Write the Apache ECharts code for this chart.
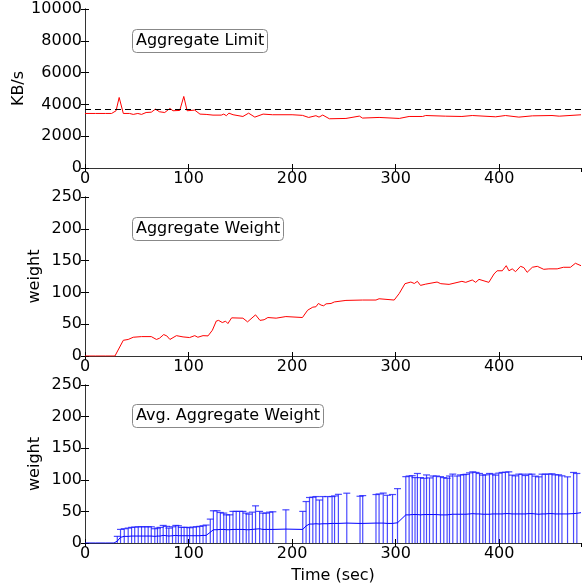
<!DOCTYPE html>
<html><head><meta charset="utf-8">
<script src="https://cdn.jsdelivr.net/npm/echarts@6/dist/echarts.min.js"></script>
<style>html,body{margin:0;padding:0;background:#fff}#c{width:582px;height:584px}</style>
</head><body><div id="c"></div>
<script>
// ---- data ----
var xTicks = [0, 100, 200, 300, 400];
var limitT = [0,10,20,25.7,30,33,37,43,46.6,51,54.6,59,64,68,72,77,82,85,91.5,95.4,98.6,106,111,117,123.6,131.6,134,136.5,139,143,152.5,158,164,172,181,200,210,216,223,226,229.6,236,252,265,268,284,303.5,313,326,329,348,364,374,396.6,406,419,432,451,458,479];
var limitV = [3430,3430,3430,3430,3600,4435,3430,3430,3370,3430,3370,3490,3510,3700,3535,3490,3745,3600,3620,4500,3600,3640,3390,3370,3326,3326,3390,3290,3450,3350,3240,3450,3200,3390,3350,3350,3310,3180,3290,3200,3330,3096,3117,3264,3140,3180,3117,3240,3240,3300,3260,3240,3300,3220,3300,3200,3280,3300,3260,3347];
var limitTarget = 3720;

var weightT = [0,10,20,28.9,37,41.7,46.6,54.6,64,69,72,76,79,82,88.3,94.7,101,106,109,114,118.8,123,126.8,129,132.6,135.8,138,141.6,152.5,157,164.7,169,173,176.6,184.6,194,210,215,220,223,225.4,228,230.5,232.8,237.6,240.8,252,268,281,284,298.6,303.5,309,314.7,318,321,324,329,340,343.6,351.6,364,367.7,374,377.3,380.5,390,395,398,403,406.8,409.4,412.6,415.8,420.6,423.8,427,432,436.8,443,448,456,462,468.8,473.6,479];
var weightV = [0,0,0,0,24.7,26,29.5,30.5,30.5,26,28,33.7,31.6,26,32,30,29,32,29.5,32,31.6,40.5,55,56,52.6,54.7,51,60,59.5,53.7,64.7,56,57,60.5,59.5,62,60.5,72,76.8,77.4,82.6,80,79,82,82.6,85,87.4,88,88,90,88,98.4,113.7,116.3,114,117.4,111,113,116.3,113.7,112.6,117.4,115.8,119.5,115.8,120.5,115.8,129,134,134,142,134,137,132.6,141,139,131.6,139.5,141,136.3,137,137,139.5,139.5,145.8,142];

var avgT = [0,10,20,28,31.2,34.3,37.9,41.7,45,48,51.4,54.6,57.8,61,64,67.4,70,72.5,75.5,78.7,81,84.5,87.7,90.2,93,95.7,98.6,101,104.4,107.6,110.8,114,117,121,124,127.5,130.7,134,136.5,139.7,142.9,146,149.3,152.5,155.7,158.3,161.6,164.7,168.6,171.8,175,178.2,181.4,194,210.3,213.5,216.8,220,223,226.4,229.6,234.4,238.6,241,244.7,252.8,265.6,268.2,281,284,288,292,297,301.8,309.8,313,316,318.7,321,324,327.3,329.8,332.7,336.2,339.4,343.3,346.5,349.7,352,355.2,359.4,362.6,365.8,368,371.3,374.5,377.7,381,384.2,386.7,390.6,393.8,396.4,399.6,402.8,406,409.3,412.5,415.7,418.9,422.1,425.3,428.5,431.7,435,438.2,441.4,444.6,447.8,451,454.2,457.4,460.6,466,471.8,475,479];
var avgMean = [0,0,0,0,3,9,10.5,10.5,11,11,11,11,11,11,11,10.5,11,11,12,11.5,11,11.5,12,11.5,11.5,11.5,11.5,11.5,11.5,11.5,11.5,12,12,17,21,21,21.5,21.5,21,21,21.5,21.5,21.5,21.5,21,21,21.5,22,22.5,21.5,21.5,21.5,21.5,22,21.5,27,30,30,30.5,30,30.5,30.5,31,31,31,31.5,31,31,31.5,31.5,31.5,31,31,32,44.5,44.5,45,45,45,44.5,45,45,45,45,45,44.5,44.5,44.5,45,45.5,45.5,45.5,45.5,45.5,46,46.5,46,46,45.5,45.5,45.5,46,46,46,46,46.5,46.5,46,46,46,46,46,46.5,46.5,46,45.5,46,46,46.5,46.5,46,46,46,46,46.5,47,48];
var avgUpper = [null,null,null,null,10.5,21.5,22.6,23.6,24.7,25.2,25.7,25.7,25.7,25.7,25.7,22.6,23.6,24.7,27.8,26.3,23.6,25.7,27.8,27.3,24.7,24.7,24.7,24.2,25.2,25.7,26.3,27.3,28.4,37.8,51,51,48.3,47.3,44.6,44.6,50,50,50,50,47.3,45.7,48.8,58.8,50,47.3,47.3,48.8,49.4,52.5,50,65.6,72,72.5,73.5,68,73.5,73.5,73.5,74.5,77,78.8,74,75,76.7,77.6,79,75.5,76.7,86,105,106,106.5,103.5,110,103.5,102.4,107.7,103,106,106,105,103.5,102.4,106,109,106,107.7,108.2,108.7,111,112.6,111.6,110,107.4,107.9,110,109,107.4,110.5,111.6,112,112.6,107.4,106.3,108.9,108.9,106.8,108.9,108.9,105.8,104.7,108.9,108.9,108.9,109.5,107.9,107.9,106.3,104.7,111.6,110,null];

// ---- build ----
var FONT = 'DejaVu Sans';
var FS = 16;
var grids = [
  {left: 85, top: 9, width: 496, height: 159, outerBoundsMode: 'none', containLabel: false},
  {left: 85, top: 197, width: 496, height: 159, outerBoundsMode: 'none', containLabel: false},
  {left: 85, top: 385, width: 496, height: 158, outerBoundsMode: 'none', containLabel: false}
];
function pairs(a, b) { return a.map(function (t, i) { return [t, b[i]]; }); }
var axisLineStyle = {color: '#333', width: 1};
var xAxes = [], yAxes = [];
var yMax = [10000, 250, 250], yInt = [2000, 50, 50], yNames = ['KB/s', 'weight', 'weight'], yGap = [58, 42, 42];
for (var g = 0; g < 3; g++) {
  xAxes.push({
    type: 'value', gridIndex: g, min: 0, max: 479, interval: 100, position: 'bottom',
    axisLine: {show: true, lineStyle: axisLineStyle},
    axisTick: {show: true, inside: true, length: 4, lineStyle: {color: '#000'}},
    axisLabel: {show: true, margin: 3, color: '#000', fontFamily: FONT, fontSize: FS,
      showMaxLabel: false, formatter: function (v) { return String(v); }},
    splitLine: {show: false},
    name: g === 2 ? 'Time (sec)' : '', nameLocation: 'middle', nameGap: 25, nameMoveOverlap: false,
    nameTextStyle: {fontFamily: FONT, fontSize: FS, color: '#000'}
  });
  xAxes.push({
    type: 'value', gridIndex: g, min: 0, max: 479, interval: 100, position: 'top',
    axisLine: {show: true, lineStyle: axisLineStyle},
    axisTick: {show: true, inside: true, length: 4, lineStyle: {color: '#000'}},
    axisLabel: {show: false}, splitLine: {show: false}
  });
  yAxes.push({
    type: 'value', gridIndex: g, min: 0, max: yMax[g], interval: yInt[g], position: 'left',
    axisLine: {show: true, lineStyle: axisLineStyle},
    axisTick: {show: true, inside: true, length: 4, lineStyle: {color: '#000'}},
    axisLabel: {show: true, margin: 3, color: '#000', fontFamily: FONT, fontSize: FS,
      formatter: function (v) { return String(v); }},
    splitLine: {show: false},
    name: yNames[g], nameLocation: 'middle', nameGap: yGap[g], nameRotate: 90, nameMoveOverlap: false,
    nameTextStyle: {fontFamily: FONT, fontSize: FS, color: '#000'}
  });
  yAxes.push({
    type: 'value', gridIndex: g, min: 0, max: yMax[g], interval: yInt[g], position: 'right',
    axisLine: {show: true, lineStyle: axisLineStyle},
    axisTick: {show: true, inside: true, length: 4, lineStyle: {color: '#000'}},
    axisLabel: {show: false}, splitLine: {show: false}
  });
}

var barData = [];
avgT.forEach(function (t, i) { if (avgUpper[i] != null) barData.push([t, avgMean[i], avgUpper[i]]); });

var BAR = 'rgba(30,30,255,0.8)';
var boxStyle = {
  textStyle: {fontFamily: FONT, fontSize: FS, fontWeight: 'normal', color: '#000'},
  backgroundColor: '#fff', borderColor: '#888', borderWidth: 1, borderRadius: 4,
  padding: [4, 4]
};
function box(text, left, top) {
  return Object.assign({text: text, left: left, top: top}, boxStyle);
}

var option = {
  animation: false,
  backgroundColor: '#fff',
  title: [box('Aggregate Limit', 132, 29), box('Aggregate Weight', 132, 217), box('Avg. Aggregate Weight', 132, 404)],
  grid: grids,
  xAxis: xAxes,
  yAxis: yAxes,
  series: [
    {type: 'line', xAxisIndex: 0, yAxisIndex: 0, data: pairs(limitT, limitV), showSymbol: false,
      lineStyle: {color: '#ff0000', width: 1}, z: 3,
      markLine: {symbol: 'none', silent: true, label: {show: false},
        lineStyle: {color: '#000', type: [6, 4], width: 1}, data: [{yAxis: limitTarget}]}},
    {type: 'line', xAxisIndex: 2, yAxisIndex: 2, data: pairs(weightT, weightV), showSymbol: false,
      lineStyle: {color: '#ff0000', width: 1}},
    {type: 'custom', xAxisIndex: 4, yAxisIndex: 4, data: barData, clip: true,
      renderItem: function (params, api) {
        var x = api.value(0), m = api.value(1), up = api.value(2);
        var lo = m - (up - m);
        var p1 = api.coord([x, up]), p2 = api.coord([x, lo]);
        var st = {stroke: BAR, lineWidth: 1.2};
        return {type: 'group', children: [
          {type: 'line', shape: {x1: p1[0], y1: p1[1], x2: p2[0], y2: p2[1]}, style: st},
          {type: 'line', shape: {x1: p1[0] - 3.5, y1: p1[1], x2: p1[0] + 3.5, y2: p1[1]}, style: st},
          {type: 'line', shape: {x1: p2[0] - 3.5, y1: p2[1], x2: p2[0] + 3.5, y2: p2[1]}, style: st}
        ]};
      }},
    {type: 'line', xAxisIndex: 4, yAxisIndex: 4, data: pairs(avgT, avgMean), showSymbol: false,
      lineStyle: {color: '#0000ff', width: 1}, z: 3}
  ]
};
echarts.init(document.getElementById('c')).setOption(option);
</script></body></html>
